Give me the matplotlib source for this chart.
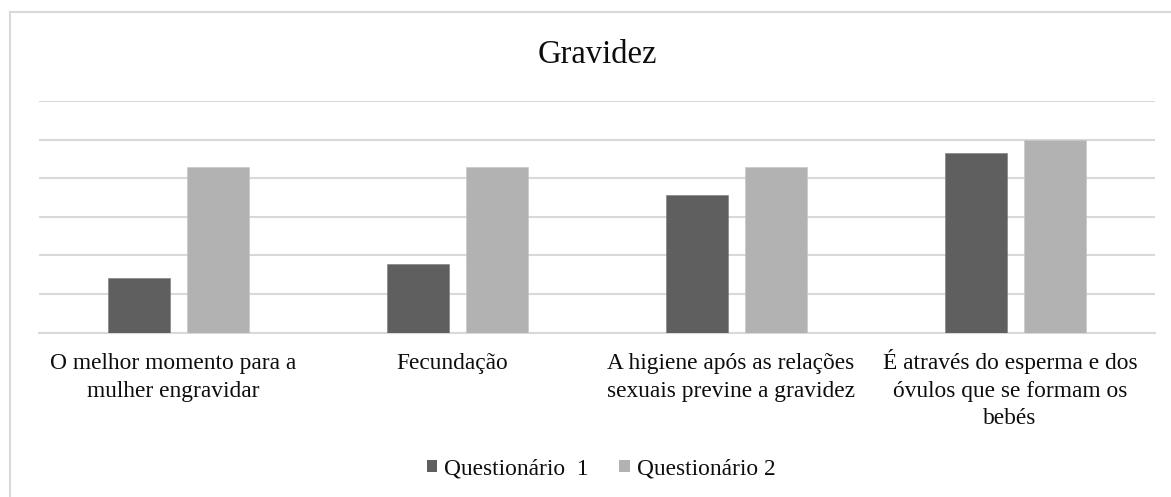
import matplotlib
matplotlib.use("Agg")
import matplotlib.pyplot as plt
from matplotlib.lines import Line2D
from matplotlib.patches import Patch
import numpy as np

categories = [
    "O melhor momento para a\nmulher engravidar",
    "Fecundação",
    "A higiene após as relações\nsexuais previne a gravidez",
    "É através do esperma e dos\nóvulos que se formam os\nbebés",
]
series_names = ["Questionário  1", "Questionário 2"]
q1_values = [28.57, 35.71, 71.43, 92.86]
q2_values = [85.71, 85.71, 85.71, 100.0]
title = "Gravidez"

colors = ["#5f5f5f", "#b2b2b2"]
grid_color = "#d9d9d9"
text_color = "#0d0d0d"

plt.rcParams["font.family"] = ["Liberation Serif", "DejaVu Serif"]

W, H = 1171, 497
fig = plt.figure(figsize=(W / 100, H / 100), dpi=100)
fig.patch.set_facecolor("white")

left, right, top, bottom = 39, 1155, 101, 332.7
ax = fig.add_axes([left / W, (H - bottom) / H, (right - left) / W, (bottom - top) / H])

x = np.arange(len(categories))
bw = 0.222
off = 0.1415
ax.bar(x - off, q1_values, bw, color=colors[0], zorder=3, edgecolor="#7a7a7a", linewidth=0.4)
ax.bar(x + off, q2_values, bw, color=colors[1], zorder=3, edgecolor="#c4c4c4", linewidth=0.4)

ax.set_xlim(-0.5, len(categories) - 0.5)
ax.set_ylim(0, 120)
ax.set_yticks(np.arange(0, 121, 20))
ax.yaxis.grid(True, color=grid_color, linewidth=1.5, zorder=0)
ax.set_axisbelow(True)
ax.tick_params(axis="y", left=False, labelleft=False)
ax.set_xticks(x)
ax.set_xticklabels([])
ax.tick_params(axis="x", bottom=False)
for s in ["top", "right", "left"]:
    ax.spines[s].set_visible(False)
ax.spines["bottom"].set_color(grid_color)
ax.spines["bottom"].set_linewidth(1.5)

# category labels: each line placed on its own baseline so first lines align
ax_h = bottom - top
first_baseline_px = 369.5
line_step_px = 27.0
for xi, lab in zip(x, categories):
    for i, line in enumerate(lab.split("\n")):
        yb = -(first_baseline_px + i * line_step_px - bottom) / ax_h
        ax.text(xi - 0.02, yb, line, transform=ax.get_xaxis_transform(),
                ha="center", va="baseline", fontsize=16.8, color=text_color)

fig.text(597 / W, 1 - 63.3 / H, title, ha="center", va="baseline",
         fontsize=23.5, color=text_color)

handles = [Patch(facecolor=colors[0], edgecolor="none"),
           Patch(facecolor=colors[1], edgecolor="none")]
fig.legend(handles, series_names, loc="center", bbox_to_anchor=(601 / W, 1 - 469 / H),
           ncol=2, frameon=False, fontsize=16.8, handlelength=0.45, handleheight=0.45,
           handletextpad=0.3, columnspacing=1.3, labelcolor=text_color)

# outer chart frame (partially visible)
fy = 1 - 12 / H
fx = 10 / W
fig.add_artist(Line2D([fx, 1], [fy, fy], transform=fig.transFigure, color=grid_color, linewidth=1.5))
fig.add_artist(Line2D([fx, fx], [0, fy], transform=fig.transFigure, color=grid_color, linewidth=1.5))

fig.savefig("out.png", dpi=100, facecolor="white")
